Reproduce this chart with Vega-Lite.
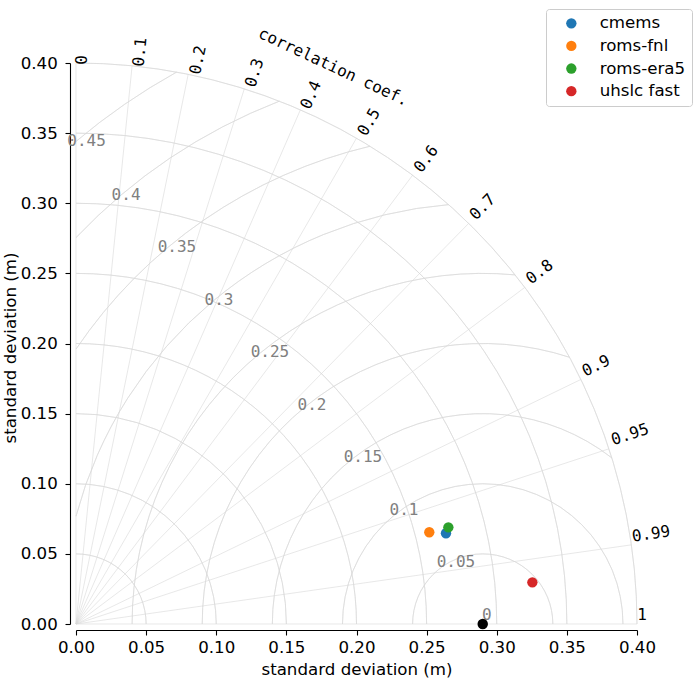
{
  "$schema": "https://vega.github.io/schema/vega-lite/v6.json",
  "width": 561,
  "height": 561,
  "autosize": {"type": "none"},
  "padding": {"left": 76, "top": 63, "right": 63, "bottom": 76},
  "background": "white",
  "config": {
    "view": {"stroke": null},
    "axis": {
      "labelFont": "DejaVu Sans", "labelFontSize": 16.67, "labelColor": "black",
      "titleFont": "DejaVu Sans", "titleFontSize": 16.67, "titleFontWeight": "normal", "titleColor": "black",
      "domainColor": "black", "domainWidth": 1.1, "tickColor": "black", "tickWidth": 1.1, "tickSize": 5,
      "grid": false, "labelFlush": false, "labelOverlap": false, "labelBound": false, "offset": 6, "labelPadding": 4
    },
    "legend": {
      "labelFont": "DejaVu Sans", "labelFontSize": 16.67, "labelColor": "black",
      "strokeColor": "#cccccc", "fillColor": "white", "cornerRadius": 3, "padding": 6,
      "symbolSize": 107, "symbolType": "circle", "symbolStrokeWidth": 0, "symbolOpacity": 1,
      "symbolOffset": 11, "labelOffset": 20, "rowPadding": 4.6
    }
  },
  "datasets": {
    "std": [
      {"r": 0.05, "cx": 0, "cy": 0, "t0": 0, "t1": 90},
      {"r": 0.1, "cx": 0, "cy": 0, "t0": 0, "t1": 90},
      {"r": 0.15, "cx": 0, "cy": 0, "t0": 0, "t1": 90},
      {"r": 0.2, "cx": 0, "cy": 0, "t0": 0, "t1": 90},
      {"r": 0.25, "cx": 0, "cy": 0, "t0": 0, "t1": 90},
      {"r": 0.3, "cx": 0, "cy": 0, "t0": 0, "t1": 90},
      {"r": 0.35, "cx": 0, "cy": 0, "t0": 0, "t1": 90},
      {"r": 0.4, "cx": 0, "cy": 0, "t0": 0, "t1": 90}
    ],
    "rmsd": [
      {"d": 0, "cx": 0.29, "cy": 0, "t0": 0, "t1": 0, "label": "0", "lx": 0.2930, "ly": 0.0064},
      {"d": 0.05, "cx": 0.29, "cy": 0, "t0": -90, "t1": 90, "label": "0.05", "lx": 0.2709, "ly": 0.0440},
      {"d": 0.1, "cx": 0.29, "cy": 0, "t0": -90, "t1": 90, "label": "0.1", "lx": 0.2339, "ly": 0.0813},
      {"d": 0.15, "cx": 0.29, "cy": 0, "t0": -90, "t1": 37.87, "label": "0.15", "lx": 0.2046, "ly": 0.1194},
      {"d": 0.2, "cx": 0.29, "cy": 0, "t0": -90, "t1": 18.03, "label": "0.2", "lx": 0.1683, "ly": 0.1561},
      {"d": 0.25, "cx": 0.29, "cy": 0, "t0": -90, "t1": 5.30, "label": "0.25", "lx": 0.1383, "ly": 0.1939},
      {"d": 0.3, "cx": 0.29, "cy": 0, "t0": -75.16, "t1": -4.65, "label": "0.3", "lx": 0.1020, "ly": 0.2310},
      {"d": 0.35, "cx": 0.29, "cy": 0, "t0": -55.94, "t1": -13.27, "label": "0.35", "lx": 0.0720, "ly": 0.2688},
      {"d": 0.4, "cx": 0.29, "cy": 0, "t0": -46.47, "t1": -21.25, "label": "0.4", "lx": 0.0357, "ly": 0.3059},
      {"d": 0.45, "cx": 0.29, "cy": 0, "t0": -40.12, "t1": -29.02, "label": "0.45", "lx": 0.0075, "ly": 0.3441}
    ],
    "corr": [
      {"c": 0, "label": "0", "ox": 0, "oy": 0, "ex": 0, "ey": 0.4, "lx": 0.0045, "ly": 0.4021, "phi": 90},
      {"c": 0.1, "label": "0.1", "ox": 0, "oy": 0, "ex": 0.04, "ey": 0.39799, "lx": 0.0456, "ly": 0.4078, "phi": 84.26},
      {"c": 0.2, "label": "0.2", "ox": 0, "oy": 0, "ex": 0.08, "ey": 0.39192, "lx": 0.0870, "ly": 0.4021, "phi": 78.46},
      {"c": 0.3, "label": "0.3", "ox": 0, "oy": 0, "ex": 0.12, "ey": 0.38158, "lx": 0.1273, "ly": 0.3929, "phi": 72.54},
      {"c": 0.4, "label": "0.4", "ox": 0, "oy": 0, "ex": 0.16, "ey": 0.36661, "lx": 0.1676, "ly": 0.3772, "phi": 66.42},
      {"c": 0.5, "label": "0.5", "ox": 0, "oy": 0, "ex": 0.2, "ey": 0.34641, "lx": 0.2089, "ly": 0.3579, "phi": 60},
      {"c": 0.6, "label": "0.6", "ox": 0, "oy": 0, "ex": 0.24, "ey": 0.32, "lx": 0.2496, "ly": 0.3316, "phi": 53.13},
      {"c": 0.7, "label": "0.7", "ox": 0, "oy": 0, "ex": 0.28, "ey": 0.28566, "lx": 0.2898, "ly": 0.2973, "phi": 45.57},
      {"c": 0.8, "label": "0.8", "ox": 0, "oy": 0, "ex": 0.32, "ey": 0.24, "lx": 0.3305, "ly": 0.2510, "phi": 36.87},
      {"c": 0.9, "label": "0.9", "ox": 0, "oy": 0, "ex": 0.36, "ey": 0.17436, "lx": 0.3708, "ly": 0.1840, "phi": 25.84},
      {"c": 0.95, "label": "0.95", "ox": 0, "oy": 0, "ex": 0.38, "ey": 0.1249, "lx": 0.3950, "ly": 0.1351, "phi": 18.19},
      {"c": 0.99, "label": "0.99", "ox": 0, "oy": 0, "ex": 0.396, "ey": 0.05643, "lx": 0.4100, "ly": 0.0642, "phi": 8.11},
      {"c": 1, "label": "1", "ox": 0, "oy": 0, "ex": 0.4, "ey": 0, "lx": 0.4036, "ly": 0.0064, "phi": 0}
    ],
    "models": [
      {"model": "cmems", "x": 0.2638, "y": 0.0647},
      {"model": "roms-fnl", "x": 0.2519, "y": 0.0654},
      {"model": "roms-era5", "x": 0.2655, "y": 0.0689},
      {"model": "uhslc fast", "x": 0.3254, "y": 0.0297}
    ],
    "ref": [{"x": 0.29, "y": 0}],
    "axistitle": [{"text": "correlation coef.", "x": 0.1836, "y": 0.3971}]
  },
  "layer": [
    {
      "data": {"name": "models"},
      "mark": {"type": "point", "filled": true, "opacity": 0, "size": 1},
      "encoding": {
        "x": {"field": "x", "type": "quantitative", "title": "standard deviation (m)", "scale": {"domain": [0, 0.4], "nice": false, "zero": false},
              "axis": {"values": [0, 0.05, 0.1, 0.15, 0.2, 0.25, 0.3, 0.35, 0.4], "format": ".2f", "title": "standard deviation (m)", "titlePadding": 6}},
        "y": {"field": "y", "type": "quantitative", "title": "standard deviation (m)", "scale": {"domain": [0, 0.4], "nice": false, "zero": false},
              "axis": {"values": [0, 0.05, 0.1, 0.15, 0.2, 0.25, 0.3, 0.35, 0.4], "format": ".2f", "title": "standard deviation (m)", "labelPadding": 7.7,
                       "titleX": -60, "titleY": 284.5, "titleBaseline": "middle", "titleAlign": "center", "titleAngle": -90}}
      }
    },
    {
      "data": {"name": "std"},
      "mark": {"type": "arc", "filled": false, "stroke": "#d8d8d8", "strokeWidth": 0.6},
      "encoding": {
        "x": {"field": "cx", "type": "quantitative", "title": "standard deviation (m)"},
        "y": {"field": "cy", "type": "quantitative", "title": "standard deviation (m)"},
        "theta": {"field": "t0", "type": "quantitative", "scale": {"type": "linear", "domain": [0, 360], "range": [0, 6.283185307179586], "zero": false, "nice": false}},
        "theta2": {"field": "t1"},
        "radius": {"field": "r", "type": "quantitative", "scale": {"type": "linear", "domain": [0, 0.4], "range": [0, 561], "zero": true}},
        "radius2": {"field": "r"}
      }
    },
    {
      "data": {"name": "rmsd"},
      "mark": {"type": "arc", "filled": false, "stroke": "#d8d8d8", "strokeWidth": 0.6},
      "encoding": {
        "x": {"field": "cx", "type": "quantitative", "title": "standard deviation (m)"},
        "y": {"field": "cy", "type": "quantitative", "title": "standard deviation (m)"},
        "theta": {"field": "t0", "type": "quantitative"},
        "theta2": {"field": "t1"},
        "radius": {"field": "d", "type": "quantitative"},
        "radius2": {"field": "d"}
      }
    },
    {
      "data": {"name": "corr"},
      "mark": {"type": "rule", "stroke": "#d8d8d8", "strokeWidth": 0.6},
      "encoding": {
        "x": {"field": "ox", "type": "quantitative", "title": "standard deviation (m)"},
        "y": {"field": "oy", "type": "quantitative", "title": "standard deviation (m)"},
        "x2": {"field": "ex"},
        "y2": {"field": "ey"}
      }
    },
    {
      "data": {"name": "rmsd"},
      "mark": {"type": "text", "font": "DejaVu Sans Mono", "fontSize": 16, "color": "#808080", "align": "center", "baseline": "middle"},
      "encoding": {
        "x": {"field": "lx", "type": "quantitative", "title": "standard deviation (m)"},
        "y": {"field": "ly", "type": "quantitative", "title": "standard deviation (m)"},
        "text": {"field": "label", "type": "nominal"}
      }
    },
    {
      "data": {"name": "corr"},
      "mark": {"type": "text", "font": "DejaVu Sans Mono", "fontSize": 16, "color": "black", "align": "center", "baseline": "middle"},
      "encoding": {
        "x": {"field": "lx", "type": "quantitative", "title": "standard deviation (m)"},
        "y": {"field": "ly", "type": "quantitative", "title": "standard deviation (m)"},
        "text": {"field": "label", "type": "nominal"},
        "angle": {"field": "phi", "type": "quantitative", "scale": {"domain": [0, 90], "range": [0, -90]}}
      }
    },
    {
      "data": {"name": "axistitle"},
      "mark": {"type": "text", "font": "DejaVu Sans Mono", "fontSize": 16, "color": "black", "align": "center", "baseline": "middle", "angle": 25},
      "encoding": {
        "x": {"field": "x", "type": "quantitative", "title": "standard deviation (m)"},
        "y": {"field": "y", "type": "quantitative", "title": "standard deviation (m)"},
        "text": {"field": "text", "type": "nominal"}
      }
    },
    {
      "data": {"name": "models"},
      "mark": {"type": "point", "filled": true, "opacity": 1, "size": 107, "strokeWidth": 0},
      "encoding": {
        "x": {"field": "x", "type": "quantitative", "title": "standard deviation (m)"},
        "y": {"field": "y", "type": "quantitative", "title": "standard deviation (m)"},
        "color": {"field": "model", "type": "nominal",
                  "scale": {"domain": ["cmems", "roms-fnl", "roms-era5", "uhslc fast"], "range": ["#1f77b4", "#ff7f0e", "#2ca02c", "#d62728"]},
                  "legend": {"title": null, "orient": "none", "legendX": 470, "legendY": -54}}
      }
    },
    {
      "data": {"name": "ref"},
      "mark": {"type": "point", "filled": true, "opacity": 1, "size": 110, "strokeWidth": 0, "color": "black"},
      "encoding": {
        "x": {"field": "x", "type": "quantitative", "title": "standard deviation (m)"},
        "y": {"field": "y", "type": "quantitative", "title": "standard deviation (m)"}
      }
    }
  ]
}
